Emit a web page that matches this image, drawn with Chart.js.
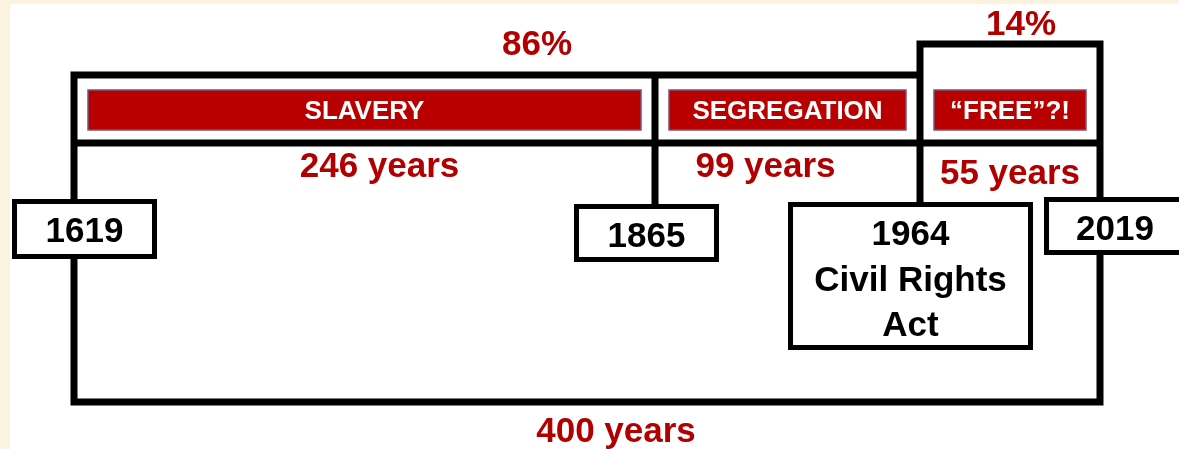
<!DOCTYPE html>
<html>
<head>
<meta charset="utf-8">
<title>400 years timeline</title>
<script src="https://cdn.jsdelivr.net/npm/chart.js@4.4.1/dist/chart.umd.min.js"></script>
<style>
  html, body { margin: 0; padding: 0; }
  body { width: 1179px; height: 449px; background: #fbf2df; position: relative; overflow: hidden; }
  #paper { position: absolute; left: 10px; top: 4px; right: 0; bottom: 0; background: #fff; }
  #wrap { position: absolute; left: 0; top: 0; width: 1179px; height: 449px; }
</style>
</head>
<body>
<div id="paper"></div>
<div id="wrap"><canvas id="timeline"></canvas></div>
<script>
// milestones on the timeline
const milestoneYears = [1619, 1865, 1964, 2019];
const milestoneNotes = ['', '', 'Civil Rights\nAct', ''];
// periods between milestones
const periodNames = ['SLAVERY', 'SEGREGATION', '\u201CFREE\u201D?!'];
// share of the whole span shown as a percentage
const shareFrom = [1619, 1964];
const shareTo = [1964, 2019];

// drawing is not to scale in the original, so each period gets its own width
const segmentWeights = [581, 265, 180];

const RED = '#b00000';
const BAR_RED = '#b90000';
const FONT = '"Liberation Sans", Arial, sans-serif';

function yearToDecimal(v) {
  const total = segmentWeights.reduce((a, b) => a + b, 0);
  let acc = 0;
  for (let i = 0; i < segmentWeights.length; i++) {
    const a = milestoneYears[i], b = milestoneYears[i + 1];
    if (v <= b || i === segmentWeights.length - 1) {
      return (acc + segmentWeights[i] * (v - a) / (b - a)) / total;
    }
    acc += segmentWeights[i];
  }
  return 1;
}

function decimalToYear(d) {
  const total = segmentWeights.reduce((a, b) => a + b, 0);
  let acc = 0;
  for (let i = 0; i < segmentWeights.length; i++) {
    const w = segmentWeights[i] / total;
    if (d <= acc + w || i === segmentWeights.length - 1) {
      const a = milestoneYears[i], b = milestoneYears[i + 1];
      return a + (d - acc) / w * (b - a);
    }
    acc += w;
  }
  return milestoneYears[milestoneYears.length - 1];
}

class TimelineScale extends Chart.LinearScale {
  getPixelForValue(value) {
    return this.getPixelForDecimal(yearToDecimal(value));
  }
  getValueForPixel(pixel) {
    return decimalToYear(this.getDecimalForPixel(pixel));
  }
}
TimelineScale.id = 'timeline';
TimelineScale.defaults = {};
Chart.register(TimelineScale);

// box layout per milestone (left offset from the year line, size, top)
const boxLayout = [
  { dx: -62, w: 145, top: 199, h: 60 },
  { dx: -81, w: 145, top: 204, h: 58 },
  { dx: -132, w: 245, top: 202, h: 148 },
  { dx: -56, w: 142, top: 197, h: 58 }
];

// red labels: [from, to, kind, baseline, dx]
const spanLabelLayout = [
  { from: milestoneYears[0], to: milestoneYears[1], kind: 'years', base: 177, dx: 15 },
  { from: milestoneYears[1], to: milestoneYears[2], kind: 'years', base: 177, dx: -22 },
  { from: milestoneYears[2], to: milestoneYears[3], kind: 'years', base: 184, dx: 0 },
  { from: milestoneYears[0], to: milestoneYears[3], kind: 'years', base: 442, dx: 29 },
  { from: shareFrom[0], to: shareTo[0], kind: 'share', base: 55, dx: 40 },
  { from: shareFrom[1], to: shareTo[1], kind: 'share', base: 35, dx: 11 }
];

const TOP_Y = 75, STEP_Y = 44, MID_Y = 143, BOT_Y = 402;

const framePlugin = {
  id: 'timelineFrame',
  afterDatasetsDraw(chart) {
    const ctx = chart.ctx;
    const xs = chart.scales.x;
    const px = milestoneYears.map(y => xs.getPixelForValue(y));
    const boxes = boxLayout.map((b, i) => ({ left: px[i] + b.dx, w: b.w, top: b.top, h: b.h }));
    const last = px.length - 1;

    ctx.save();
    // frame lines
    ctx.strokeStyle = '#000';
    ctx.lineWidth = 7;
    ctx.lineJoin = 'miter';
    ctx.lineCap = 'square';
    ctx.beginPath();
    ctx.moveTo(px[0], boxes[0].top);
    ctx.lineTo(px[0], TOP_Y);
    ctx.lineTo(px[2], TOP_Y);
    ctx.lineTo(px[2], STEP_Y);
    ctx.lineTo(px[last], STEP_Y);
    ctx.lineTo(px[last], boxes[last].top);
    ctx.moveTo(px[0], MID_Y);
    ctx.lineTo(px[last], MID_Y);
    ctx.moveTo(px[1], TOP_Y);
    ctx.lineTo(px[1], boxes[1].top);
    ctx.moveTo(px[2], TOP_Y);
    ctx.lineTo(px[2], boxes[2].top);
    ctx.moveTo(px[0], boxes[0].top + boxes[0].h);
    ctx.lineTo(px[0], BOT_Y);
    ctx.lineTo(px[last], BOT_Y);
    ctx.lineTo(px[last], boxes[last].top + boxes[last].h);
    ctx.stroke();

    // milestone boxes
    ctx.lineWidth = 5;
    ctx.lineCap = 'butt';
    ctx.textAlign = 'center';
    ctx.textBaseline = 'alphabetic';
    ctx.font = 'bold 35px ' + FONT;
    boxes.forEach((b, i) => {
      ctx.fillStyle = '#fff';
      ctx.fillRect(b.left, b.top, b.w, b.h);
      ctx.strokeRect(b.left + 2.5, b.top + 2.5, b.w - 5, b.h - 5);
      const lines = [String(milestoneYears[i])];
      if (milestoneNotes[i]) lines.push(...milestoneNotes[i].split('\n'));
      ctx.fillStyle = '#000';
      lines.forEach((t, k) => {
        ctx.fillText(t, b.left + b.w / 2, b.top + 43 + k * 45.5);
      });
    });

    // red span labels
    const whole = milestoneYears[last] - milestoneYears[0];
    ctx.fillStyle = RED;
    spanLabelLayout.forEach(l => {
      const span = l.to - l.from;
      const text = l.kind === 'years' ? span + ' years' : Math.round(span / whole * 100) + '%';
      const cx = (xs.getPixelForValue(l.from) + xs.getPixelForValue(l.to)) / 2 + l.dx;
      ctx.fillText(text, cx, l.base);
    });

    // period names in the bars
    const meta = chart.getDatasetMeta(0);
    ctx.font = 'bold 26px ' + FONT;
    meta.data.forEach((el, i) => {
      const c = el.getCenterPoint();
      const half = el.height / 2 + el.inflateAmount;
      const x1 = Math.min(el.x, el.base) - el.inflateAmount;
      const x2 = Math.max(el.x, el.base) + el.inflateAmount;
      ctx.lineWidth = 1.5;
      ctx.strokeStyle = '#7d5277';
      ctx.strokeRect(x1, c.y - half, x2 - x1, half * 2);
      ctx.fillStyle = '#fff';
      ctx.fillText(periodNames[i], c.x, c.y + 9);
    });
    ctx.restore();
  }
};

const periodData = periodNames.map((name, i) => ({
  x: [milestoneYears[i], milestoneYears[i + 1]],
  y: 'periods'
}));

new Chart(document.getElementById('timeline'), {
  type: 'bar',
  data: {
    labels: ['periods'],
    datasets: [{
      label: 'Periods',
      data: periodData,
      backgroundColor: BAR_RED,
      borderWidth: 0,
      inflateAmount: -14,
      barPercentage: 1,
      categoryPercentage: 1
    }]
  },
  options: {
    indexAxis: 'y',
    responsive: true,
    maintainAspectRatio: false,
    animation: false,
    events: [],
    layout: { padding: { left: 74, right: 79, top: 76, bottom: 305 } },
    plugins: {
      legend: { display: false },
      tooltip: { enabled: false }
    },
    scales: {
      x: { type: 'timeline', min: milestoneYears[0], max: milestoneYears[milestoneYears.length - 1], display: false },
      y: { type: 'category', display: false }
    }
  },
  plugins: [framePlugin]
});
</script>
</body>
</html>
